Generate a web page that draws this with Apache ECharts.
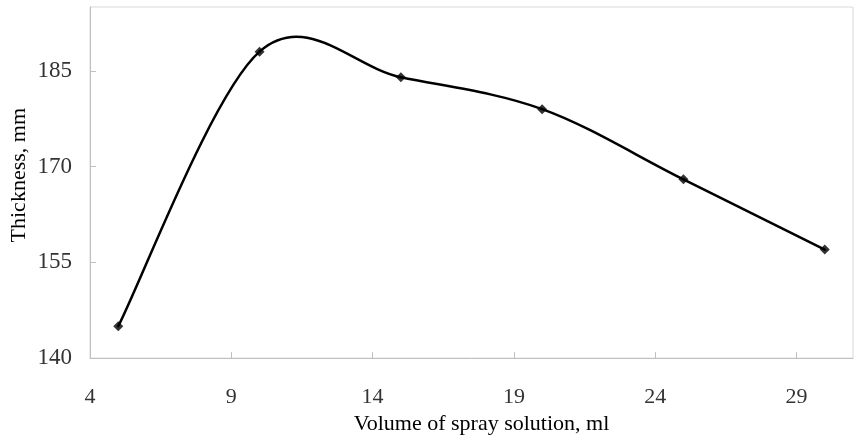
<!DOCTYPE html>
<html>
<head>
<meta charset="utf-8">
<script src="https://cdn.jsdelivr.net/npm/echarts@6/dist/echarts.min.js"></script>
<style>html,body{margin:0;padding:0;background:#fff}#c{width:854px;height:440px}</style>
</head>
<body>
<div id="c"></div>
<script>
const volume = [5, 10, 15, 20, 25, 30];
const thickness = [145, 188, 184, 179, 168, 157];
const xTicks = [4, 9, 14, 19, 24, 29];
const yTicks = [140, 155, 170, 185];
const xTitle = 'Volume of spray solution, ml';
const yTitle = 'Thickness, mm';

const chart = echarts.init(document.getElementById('c'), null, {renderer: 'canvas'});
const font = 'Liberation Serif';
const pairs = volume.map((v, i) => [v, thickness[i]]);

// Spreadsheet-style smoothed line (Catmull-Rom through the data points, via the axis scales)
function renderSmooth(params, api) {
  if (params.dataIndex !== 0) return null;
  const P = pairs.map(p => api.coord(p));
  const n = P.length;
  const children = [];
  for (let i = 0; i < n - 1; i++) {
    const p0 = P[Math.max(i - 1, 0)], p1 = P[i], p2 = P[i + 1], p3 = P[Math.min(i + 2, n - 1)];
    children.push({
      type: 'bezierCurve',
      shape: {
        x1: p1[0], y1: p1[1], x2: p2[0], y2: p2[1],
        cpx1: p1[0] + (p2[0] - p0[0]) / 6, cpy1: p1[1] + (p2[1] - p0[1]) / 6,
        cpx2: p2[0] - (p3[0] - p1[0]) / 6, cpy2: p2[1] - (p3[1] - p1[1]) / 6
      },
      style: {stroke: '#000', lineWidth: 2.5, fill: null, lineCap: 'round', lineJoin: 'round'}
    });
  }
  return {type: 'group', children: children};
}

chart.setOption({
  animation: false,
  backgroundColor: '#fff',
  grid: {left: 90, right: 1, top: 7, bottom: 74, show: true, borderColor: '#d9d9d9', borderWidth: 1, containLabel: false},
  xAxis: {
    type: 'value', min: 4, max: 31,
    name: xTitle, nameLocation: 'middle', nameGap: 48,
    nameTextStyle: {fontFamily: font, fontSize: 22, color: '#000', padding: [0, 0, 0, 20]},
    axisLine: {show: true, lineStyle: {color: '#bfbfbf', width: 1}},
    axisTick: {show: true, inside: true, length: 6, lineStyle: {color: '#bfbfbf'}, customValues: xTicks},
    axisLabel: {fontFamily: font, fontSize: 22, color: '#333', margin: 28, customValues: xTicks},
    splitLine: {show: false}
  },
  yAxis: {
    type: 'value', min: 140, max: 195,
    axisLine: {show: true, lineStyle: {color: '#bfbfbf', width: 1}},
    axisTick: {show: true, inside: true, length: 6, lineStyle: {color: '#bfbfbf'}, customValues: yTicks},
    axisLabel: {fontFamily: font, fontSize: 23, color: '#333', margin: 18, customValues: yTicks},
    splitLine: {show: false}
  },
  graphic: [{
    type: 'text', left: 8, top: 108, rotation: Math.PI / 2,
    style: {text: yTitle, font: '22px "Liberation Serif"', fill: '#000'}
  }],
  series: [{
    type: 'custom',
    coordinateSystem: 'cartesian2d',
    data: pairs,
    encode: {x: 0, y: 1},
    renderItem: renderSmooth,
    clip: false,
    z: 2
  }, {
    type: 'scatter',
    data: pairs,
    symbol: 'diamond', symbolSize: 10,
    itemStyle: {color: '#000'},
    z: 3
  }]
});
</script>
</body>
</html>
